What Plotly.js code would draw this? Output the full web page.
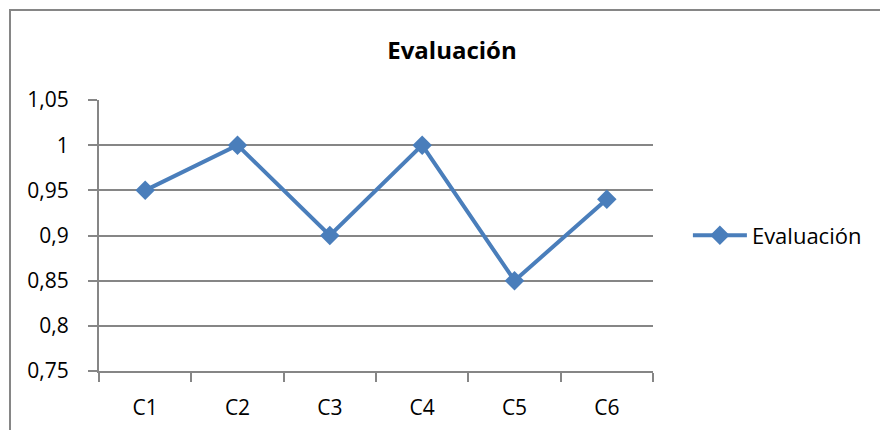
<!DOCTYPE html>
<html>
<head>
<meta charset="utf-8">
<script src="https://cdn.plot.ly/plotly-3.0.1.min.js"></script>
<style>html,body{margin:0;padding:0;background:#fff;}#chart{width:880px;height:430px;}</style>
</head>
<body>
<div id="chart"></div>
<script>
const categories = ["C1", "C2", "C3", "C4", "C5", "C6"];
const evaluacion = [0.95, 1, 0.9, 1, 0.85, 0.94];
const seriesName = "Evaluación";
const chartTitle = "Evaluación";

const FONT = "'Open Sans', 'Noto Sans', sans-serif";
const GRID = "#868686";

const trace = {
  type: "scatter",
  mode: "lines+markers",
  x: categories,
  y: evaluacion,
  name: seriesName,
  line: {color: "#4A7EBB", width: 4},
  marker: {symbol: "diamond", size: 15, color: "#4A7EBB"}
};

const layout = {
  width: 880, height: 430,
  margin: {l: 99, r: 227, t: 100, b: 59, pad: 0},
  paper_bgcolor: "#fff", plot_bgcolor: "#fff",
  separators: ",.",
  font: {family: FONT, size: 21, color: "#000"},
  title: {text: "<b>" + chartTitle + "</b>", font: {family: FONT, size: 24, color: "#000"},
          xref: "container", x: 452/880, xanchor: "center", yref: "container", y: 1 - 51/430, yanchor: "middle"},
  showlegend: true,
  legend: {x: 1.063, xanchor: "left", y: 0.5, yanchor: "middle", font: {family: FONT, size: 22}, itemwidth: 54, borderwidth: 0, bgcolor: "rgba(0,0,0,0)"},
  xaxis: {
    type: "category", tickson: "boundaries", ticks: "outside", ticklen: 9, tickcolor: GRID, tickwidth: 2,
    showline: true, linecolor: GRID, linewidth: 2, showgrid: false, zeroline: false,
    tickfont: {family: FONT, size: 21}, range: [-0.5, 5.5], ticklabelstandoff: 17
  },
  yaxis: {
    range: [0.75, 1.05], dtick: 0.05, tick0: 0.75, ticks: "outside", ticklen: 9, tickcolor: GRID, tickwidth: 2,
    showline: true, linecolor: GRID, linewidth: 2, showgrid: true, gridcolor: GRID, gridwidth: 2, zeroline: false,
    tickfont: {family: FONT, size: 21}, ticklabelstandoff: 15
  },
  shapes: [{type: "rect", xref: "paper", yref: "paper",
    x0: (10 - 99) / 554, x1: (900 - 99) / 554, y0: -0.5, y1: 1 + 90 / 271,
    line: {color: GRID, width: 2}, fillcolor: "rgba(0,0,0,0)", layer: "below"}]
};

Plotly.newPlot("chart", [trace], layout, {displayModeBar: false, staticPlot: true});
</script>
</body>
</html>
